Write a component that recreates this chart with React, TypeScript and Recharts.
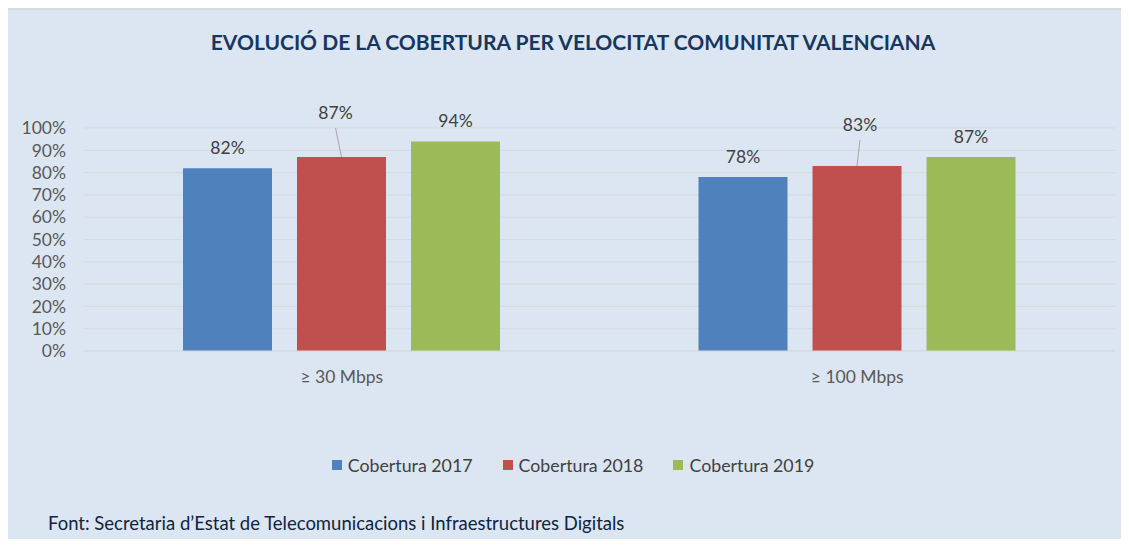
import { Bar, BarChart, CartesianGrid, LabelList, XAxis, YAxis } from 'recharts';

const CATEGORIES = ['≥ 30 Mbps', '≥ 100 Mbps'];
const COBERTURA_2017 = [82, 78];
const COBERTURA_2018 = [87, 83];
const COBERTURA_2019 = [94, 87];
const Y_TICKS = [0, 10, 20, 30, 40, 50, 60, 70, 80, 90, 100];

const SERIES = [
  { key: 'c2017', name: 'Cobertura 2017', color: '#4f81bd' },
  { key: 'c2018', name: 'Cobertura 2018', color: '#c0504d' },
  { key: 'c2019', name: 'Cobertura 2019', color: '#9bbb59' }
];

const FONT = 'Lato, "Open Sans", sans-serif';

// the 2018 labels sit higher, joined to their bar by a leader line
const LIFTED = [
  { dx: -6, dy: -44 },
  { dx: 3, dy: -41 }
];

function LiftedLabel(props: any) {
  const { x, y, width, value, index } = props;
  const shift = LIFTED[index] ?? { dx: 0, dy: -21 };
  const cx = x + width / 2;
  const ty = y + shift.dy;
  return (
    <g>
      <line x1={cx} y1={y} x2={cx + shift.dx} y2={ty + 15} stroke="#a6a6a6" strokeWidth={1} />
      <text x={cx + shift.dx} y={ty} dy="0.35em" textAnchor="middle" fill="#404040" fontSize={17.5} fontFamily={FONT}>
        {value}%
      </text>
    </g>
  );
}

export default function App() {
  const data = CATEGORIES.map((category, i) => ({
    category,
    c2017: COBERTURA_2017[i],
    c2018: COBERTURA_2018[i],
    c2019: COBERTURA_2019[i]
  }));

  return (
    <div style={{ position: 'relative', margin: -8, width: 1129, height: 547, overflow: 'hidden', fontFamily: FONT }}>
      <div
        style={{
          position: 'absolute',
          left: 6,
          top: 8,
          right: -4,
          bottom: -4,
          background: '#dce6f2',
          borderTop: '2px solid #d6d9dd',
          borderLeft: '2px solid #d6d9dd'
        }}
      />
      <div
        style={{
          position: 'absolute',
          left: 0,
          width: 1146,
          top: 28,
          textAlign: 'center',
          fontWeight: 700,
          fontSize: 21,
          color: '#17375e',
          lineHeight: '28px'
        }}
      >
        EVOLUCIÓ DE LA COBERTURA PER VELOCITAT COMUNITAT VALENCIANA
      </div>

      <div style={{ position: 'absolute', left: 0, top: 0 }}>
        <BarChart
          width={1129}
          height={547}
          data={data}
          margin={{ top: 128, right: 14, bottom: 166, left: 24 }}
          barSize={89}
          barGap={25}
        >
          <CartesianGrid vertical={false} stroke="#d6d9dd" />
          <XAxis
            dataKey="category"
            height={30}
            axisLine={{ stroke: '#d6d9dd' }}
            tickLine={false}
            tickMargin={14}
            tick={{ fill: '#595959', fontSize: 17.5, fontFamily: FONT }}
          />
          <YAxis
            width={60}
            domain={[0, 100]}
            ticks={Y_TICKS}
            interval={0}
            tickFormatter={(v) => `${v}%`}
            axisLine={false}
            tickLine={false}
            tickMargin={12}
            tick={{ fill: '#595959', fontSize: 17.5, fontFamily: FONT }}
          />
          {SERIES.map((s) => (
            <Bar key={s.key} dataKey={s.key} name={s.name} fill={s.color} isAnimationActive={false}>
              {s.key === 'c2018' ? (
                <LabelList dataKey={s.key} content={LiftedLabel} />
              ) : (
                <LabelList
                  dataKey={s.key}
                  position="top"
                  offset={14}
                  formatter={(v: any) => `${v}%`}
                  fill="#404040"
                  fontSize={17.5}
                  fontFamily={FONT}
                />
              )}
            </Bar>
          ))}
        </BarChart>
      </div>

      <div
        style={{
          position: 'absolute',
          left: 0,
          width: 1146,
          top: 453,
          display: 'flex',
          justifyContent: 'center',
          gap: 30,
          fontSize: 17.8,
          color: '#404040',
          lineHeight: '24px'
        }}
      >
        {SERIES.map((s) => (
          <div key={s.key} style={{ display: 'flex', alignItems: 'center' }}>
            <span style={{ display: 'inline-block', width: 10, height: 10, background: s.color, marginRight: 6 }} />
            {s.name}
          </div>
        ))}
      </div>

      <div style={{ position: 'absolute', left: 48, top: 510, fontSize: 18.5, color: '#0f243e', lineHeight: '26px' }}>
        Font: Secretaria d’Estat de Telecomunicacions i Infraestructures Digitals
      </div>
    </div>
  );
}
